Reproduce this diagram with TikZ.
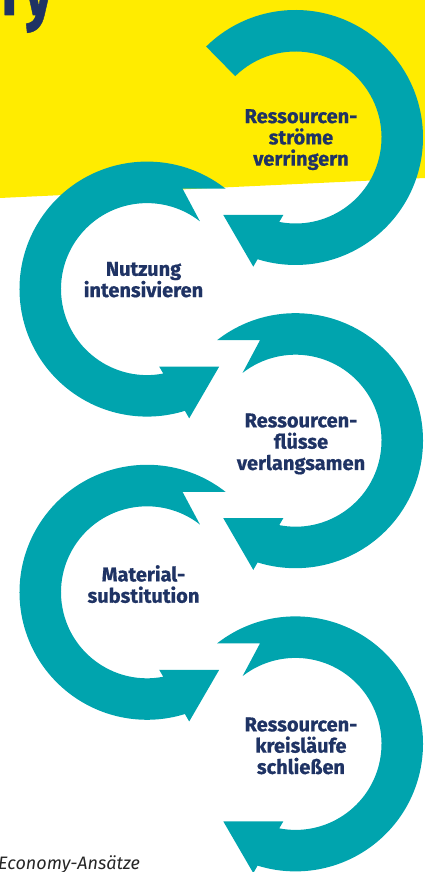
\documentclass[tikz,border=0pt]{standalone}
\usepackage{fontspec}
\setmainfont{Fira Sans}
\newfontfamily\loopfont{Fira Sans}[BoldFeatures={FakeBold=0.7}]
\usepackage{tikz}

\definecolor{ringteal}{HTML}{00A4AE}
\definecolor{bgyellow}{HTML}{FFEC00}
\definecolor{labelnavy}{HTML}{1F3364}

\begin{document}
\begin{tikzpicture}[x=1pt,y=1pt,
  ring/.style={fill=ringteal},
  looptext/.style={anchor=north,align=center,inner sep=0pt,text=labelnavy,
    font=\loopfont\fontsize{20}{21.3}\selectfont\bfseries}]
\useasboundingbox (0,0) rectangle (425,872);
\clip (0,0) rectangle (425,872);

% yellow band behind the heading
\fill[bgyellow] (0,674) -- (425,694) -- (425,872) -- (0,872) -- cycle;
\node[anchor=base east,inner sep=0pt,text=labelnavy,xscale=0.72,
  font=\loopfont\fontsize{80}{80}\selectfont\bfseries] (heading) at (54,857) {m\kern0.12em y};

% first loop, plain tail
\begin{scope}[shift={(295.5,734.5)}]
  \fill[ring] (134.5:127.5) arc[start angle=134.5,end angle=-107.3,radius=127.5]
    -- (-42.2,-129.2) -- (-72.2,-77.5) -- (-12.2,-77.5) -- (-100.9:86)
    arc[start angle=-100.9,end angle=134.5,radius=86] -- cycle;
\end{scope}

% next loops, tail notched for the arrow before, left ones mirrored
\foreach \cx/\cy/\flip in {147/582.9/-1, 295.5/431.3/1, 147/279.7/-1, 295.5/128.1/1} {
  \begin{scope}[shift={(\cx,\cy)},xscale=\flip]
    \fill[ring] (128:127.5) arc[start angle=128,end angle=-107.3,radius=127.5]
      -- (-42.2,-129.2) -- (-72.2,-77.5) -- (-12.2,-77.5) -- (-100.9:86)
      arc[start angle=-100.9,end angle=128,radius=86] -- (-35.5,100.5) -- cycle;
  \end{scope}
}

\node[looptext] (verringern) at (301,763) {Ressourcen-\\ströme\\verringern};
\node[looptext] (nutzung) at (143.5,610.3) {Nutzung\\intensivieren};
\node[looptext] (verlangsamen) at (301,458.7) {Ressourcen-\\flüsse\\verlangsamen};
\node[looptext] (substitution) at (143.5,307) {Material-\\substitution};
\node[looptext] (schliessen) at (301,154.7) {Ressourcen-\\kreisläufe\\schließen};

\node[anchor=base west,inner sep=0pt,text=black!85,
  font=\fontsize{18}{18}\selectfont\itshape] (caption) at (-2,2) {Economy-Ansätze};
\end{tikzpicture}
\end{document}
